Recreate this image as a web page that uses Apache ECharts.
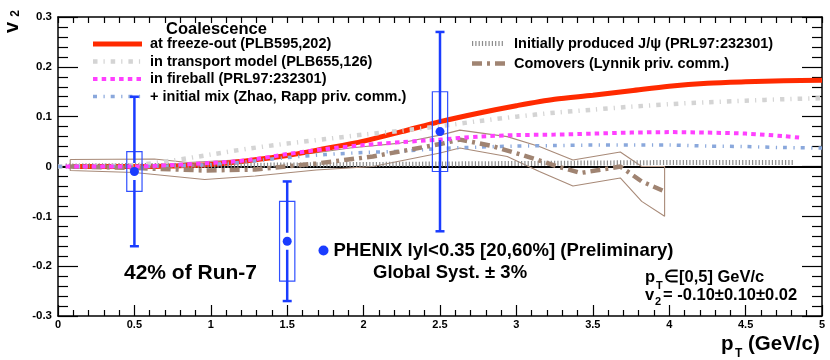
<!DOCTYPE html>
<html>
<head>
<meta charset="utf-8">
<script src="https://cdn.jsdelivr.net/npm/echarts@6/dist/echarts.min.js"></script>
<style>
html,body{margin:0;padding:0;background:#fff;}
#chart{width:830px;height:360px;}
</style>
</head>
<body>
<div id="chart"></div>
<script>
// ---- tick labels ----
const xTickLabels = ['0','0.5','1','1.5','2','2.5','3','3.5','4','4.5','5'];
const yTickLabels = ['-0.3','-0.2','-0.1','0','0.1','0.2','0.3'];

// ---- PHENIX data ----
const phenixPt = [0.5, 1.5, 2.5];
const phenixV2 = [-0.01, -0.15, 0.07];
const phenixStat = [0.15, 0.12, 0.20];
const phenixSyst = [0.04, 0.08, 0.08];

// ---- model curves ----
const freezeOutPt = [0.1, 0.5, 0.75, 1, 1.25, 1.5, 1.75, 2, 2.25, 2.5, 2.75, 3, 3.25, 3.5, 3.75, 4, 4.25, 4.5, 4.75, 5];
const freezeOutV2 = [0, 0, 0.001, 0.004, 0.012, 0.022, 0.036, 0.051, 0.07, 0.09, 0.107, 0.122, 0.135, 0.143, 0.152, 0.161, 0.167, 0.170, 0.172, 0.173];

const transportPt = [0, 0.25, 0.5, 0.75, 1, 1.25, 1.5, 1.75, 2, 2.25, 2.5, 2.75, 3, 3.25, 3.5, 3.75, 4, 4.25, 4.5, 4.75, 5];
const transportV2 = [0, 0.001, 0.003, 0.012, 0.024, 0.036, 0.046, 0.055, 0.064, 0.072, 0.081, 0.091, 0.1, 0.108, 0.114, 0.12, 0.125, 0.129, 0.132, 0.135, 0.137];

const fireballPt = [0.05, 0.25, 0.5, 0.75, 1, 1.25, 1.5, 1.75, 2, 2.25, 2.5, 2.75, 3, 3.25, 3.5, 3.75, 4, 4.25, 4.5, 4.75, 4.85];
const fireballV2 = [0, 0, 0, 0.003, 0.007, 0.013, 0.025, 0.035, 0.043, 0.049, 0.054, 0.06, 0.063, 0.064, 0.066, 0.068, 0.069, 0.068, 0.066, 0.061, 0.058];

const initMixPt = [0, 0.25, 0.5, 0.75, 1, 1.25, 1.5, 1.75, 2, 2.25, 2.5, 2.75, 3, 3.25, 3.5, 3.75, 4, 4.25, 4.5, 4.75, 5];
const initMixV2 = [0, 0, 0, 0.001, 0.004, 0.01, 0.018, 0.024, 0.028, 0.031, 0.036, 0.039, 0.041, 0.042, 0.043, 0.043, 0.043, 0.041, 0.04, 0.038, 0.037];

const initialPt = [0.05, 0.5, 1, 1.5, 2, 2.5, 3, 3.5, 4, 4.5, 4.82];
const initialV2 = [0.001, 0.002, 0.002, 0.003, 0.004, 0.005, 0.006, 0.007, 0.008, 0.008, 0.008];

const comoverPt = [0.07, 0.5, 0.96, 1.29, 1.69, 2.06, 2.5, 2.63, 2.83, 3.04, 3.27, 3.42, 3.68, 3.82, 3.97];
const comoverV2 = [0, -0.003, -0.008, -0.006, 0.006, 0.02, 0.045, 0.054, 0.042, 0.023, 0, -0.013, 0, -0.03, -0.05];

const bandUpperPt = [0.08, 0.63, 0.85, 1.29, 1.68, 1.91, 2.24, 2.5, 2.63, 2.94, 3.15, 3.37, 3.68, 3.82, 3.97];
const bandUpperV2 = [0.014, 0.015, 0.008, 0.015, 0.027, 0.037, 0.047, 0.063, 0.073, 0.06, 0.04, 0.013, 0.029, 0, 0];
const bandLowerPt = [0.08, 0.5, 0.96, 1.29, 1.69, 2.06, 2.5, 2.63, 2.94, 3.15, 3.37, 3.68, 3.82, 3.97];
const bandLowerV2 = [-0.008, -0.012, -0.026, -0.019, -0.007, 0, 0.027, 0.037, 0.02, -0.01, -0.039, -0.023, -0.07, -0.1];

// ---- names ----
const nFreeze = 'at freeze-out (PLB595,202)';
const nTransport = 'in transport model (PLB655,126)';
const nFireball = 'in fireball (PRL97:232301)';
const nMix = '+ initial mix (Zhao, Rapp priv. comm.)';
const nInitial = 'Initially produced J/\u03c8 (PRL97:232301)';
const nComover = 'Comovers (Lynnik priv. comm.)';
const nPhenix = 'PHENIX lyl<0.35 [20,60%] (Preliminary)';

const zip = (a, b) => a.map((v, i) => [v, b[i]]);
const bandOutline = zip(bandUpperPt, bandUpperV2)
  .concat(zip(bandLowerPt, bandLowerV2).reverse())
  .concat([[bandUpperPt[0], bandUpperV2[0]]]);

const FONT = '"Liberation Sans", Arial, Helvetica, sans-serif';
const BLUE = '#1a3cff';

// line styles (shared by curves and legend samples)
const STY = {
  freeze:    {color: '#ff2a00', width: 5,   dash: null},
  transport: {color: '#d4d4d4', width: 4.5, dash: [4.5, 6, 1.2, 6]},
  fireball:  {color: '#ff40ff', width: 4,   dash: [4.5, 4.2]},
  mix:       {color: '#8aa8dc', width: 3.5, dash: [4, 6.5, 1.2, 6]},
  initial:   {color: '#8c8c8c', width: 5,   dash: [1.2, 2.1]},
  comover:   {color: '#a08472', width: 4.5, dash: [10, 5, 3, 5]}
};

const chart = echarts.init(document.getElementById('chart'), null, {renderer: 'canvas'});

function lineSeries(name, xs, ys, s, z, smooth) {
  return {
    name: name, type: 'line', data: zip(xs, ys), symbol: 'none', showSymbol: false,
    smooth: smooth, z: z, silent: true,
    lineStyle: {color: s.color, width: s.width, type: s.dash || 'solid', cap: 'butt'},
    itemStyle: {color: s.color}
  };
}

function sample(x1, x2, y, s) {
  const st = {stroke: s.color, lineWidth: s.width, lineCap: 'butt'};
  if (s.dash) st.lineDash = s.dash;
  return {type: 'line', silent: true, shape: {x1: x1, y1: y, x2: x2, y2: y}, style: st};
}
function txt(x, y, text, size, align) {
  return {type: 'text', x: x, y: y, silent: true,
    style: {text: text, font: 'bold ' + size + 'px ' + FONT, fill: '#000',
      textAlign: align || 'left', textVerticalAlign: 'middle', verticalAlign: 'middle'}};
}

const errData = phenixPt.map((x, i) => [x, phenixV2[i], phenixV2[i] - phenixStat[i], phenixV2[i] + phenixStat[i]]);
const systData = phenixPt.map((x, i) => [x, phenixV2[i], phenixV2[i] - phenixSyst[i], phenixV2[i] + phenixSyst[i]]);

const axisLineStyle = {color: '#000', width: 1.5};
const tickStyle = {color: '#000', width: 1.2};

const option = {
  animation: false,
  backgroundColor: '#fff',
  grid: {left: 58, right: 8, top: 17, bottom: 44, containLabel: false},
  xAxis: [
    {
      type: 'value', min: 0, max: 5, interval: 0.5, position: 'bottom',
      axisLine: {show: true, onZero: false, lineStyle: axisLineStyle},
      axisTick: {show: true, inside: true, length: 11, lineStyle: tickStyle},
      minorTick: {show: true, splitNumber: 5, length: 6, lineStyle: tickStyle},
      splitLine: {show: false},
      axisLabel: {
        margin: 3, fontSize: 11, fontWeight: 'bold', color: '#000', fontFamily: FONT,
        formatter: v => xTickLabels[Math.round(v / 0.5)]
      }
    },
    {
      type: 'value', min: 0, max: 5, interval: 0.1, position: 'top',
      axisLine: {show: true, onZero: false, lineStyle: axisLineStyle},
      axisTick: {show: true, inside: true, length: 6, lineStyle: tickStyle},
      splitLine: {show: false}, axisLabel: {show: false}
    }
  ],
  yAxis: [
    {
      type: 'value', min: -0.3, max: 0.3, interval: 0.1, position: 'left',
      axisLine: {show: true, onZero: false, lineStyle: axisLineStyle},
      axisTick: {show: true, inside: true, length: 20, lineStyle: tickStyle},
      minorTick: {show: true, splitNumber: 5, length: 10, lineStyle: tickStyle},
      splitLine: {show: false},
      axisLabel: {
        margin: 6, fontSize: 11.5, fontWeight: 'bold', color: '#000', fontFamily: FONT,
        formatter: v => yTickLabels[Math.round((v + 0.3) / 0.1)]
      }
    },
    {
      type: 'value', min: -0.3, max: 0.3, interval: 0.1, position: 'right',
      axisLine: {show: true, onZero: false, lineStyle: axisLineStyle},
      axisTick: {show: true, inside: true, length: 20, lineStyle: tickStyle},
      minorTick: {show: true, splitNumber: 5, length: 10, lineStyle: tickStyle},
      splitLine: {show: false}, axisLabel: {show: false}
    }
  ],
  legend: [
    {
      left: 318.5, top: 241, orient: 'vertical', padding: 0, itemWidth: 10, itemHeight: 10,
      selectedMode: false, icon: 'circle',
      textStyle: {fontFamily: FONT, fontWeight: 'bold', fontSize: 18.5, color: '#000'},
      data: [nPhenix]
    }
  ],
  series: [
    {
      name: 'band', type: 'line', data: bandOutline, symbol: 'none', z: 2, silent: true,
      lineStyle: {color: '#a88a78', width: 1.1}
    },
    Object.assign(lineSeries(nFreeze, freezeOutPt, freezeOutV2, STY.freeze, 3, 0.3), {
      markLine: {
        silent: true, symbol: 'none', label: {show: false}, z: 1,
        lineStyle: {color: '#000', width: 2, type: 'solid'},
        data: [{yAxis: 0}]
      }
    }),
    lineSeries(nInitial, initialPt, initialV2, STY.initial, 4, false),
    lineSeries(nTransport, transportPt, transportV2, STY.transport, 5, 0.3),
    lineSeries(nMix, initMixPt, initMixV2, STY.mix, 6, 0.3),
    lineSeries(nComover, comoverPt, comoverV2, STY.comover, 7, false),
    lineSeries(nFireball, fireballPt, fireballV2, STY.fireball, 8, 0.3),
    {
      name: 'syst', type: 'custom', z: 10, silent: true, data: systData,
      renderItem: function (params, api) {
        const x = api.value(0), lo = api.value(2), hi = api.value(3);
        const p1 = api.coord([x - 0.05, hi]);
        const p2 = api.coord([x + 0.05, lo]);
        return {
          type: 'rect',
          shape: {x: p1[0], y: p1[1], width: p2[0] - p1[0], height: p2[1] - p1[1]},
          style: {fill: 'none', stroke: '#3050ff', lineWidth: 1.2}
        };
      }
    },
    {
      name: 'stat', type: 'custom', z: 11, silent: true, data: errData,
      renderItem: function (params, api) {
        const x = api.value(0), y = api.value(1), lo = api.value(2), hi = api.value(3);
        const p = api.coord([x, y]);
        const t = api.coord([x, hi]);
        const b = api.coord([x, lo]);
        const gap = 8.5, cap = 4.5;
        const st = {stroke: BLUE, lineWidth: 2.5};
        return {
          type: 'group',
          children: [
            {type: 'line', shape: {x1: t[0], y1: t[1], x2: p[0], y2: p[1] - gap}, style: st},
            {type: 'line', shape: {x1: p[0], y1: p[1] + gap, x2: b[0], y2: b[1]}, style: st},
            {type: 'line', shape: {x1: t[0] - cap, y1: t[1], x2: t[0] + cap, y2: t[1]}, style: st},
            {type: 'line', shape: {x1: b[0] - cap, y1: b[1], x2: b[0] + cap, y2: b[1]}, style: st}
          ]
        };
      }
    },
    {
      name: nPhenix, type: 'scatter', z: 12, silent: true, data: zip(phenixPt, phenixV2),
      symbol: 'circle', symbolSize: 9, itemStyle: {color: BLUE, opacity: 1}
    }
  ],
  graphic: [
    // legend: coalescence block
    txt(166, 29.5, 'Coalescence', 16.5),
    sample(93, 142, 44, STY.freeze),      txt(150, 44, nFreeze, 14.5),
    sample(93, 142, 61.5, STY.transport), txt(150, 61.5, nTransport, 14.5),
    sample(93, 142, 79, STY.fireball),    txt(150, 79, nFireball, 14.5),
    sample(93, 142, 96.5, STY.mix),       txt(150, 96.5, nMix, 14.5),
    // legend: right block
    sample(472, 505, 43.5, STY.initial),  txt(514, 43.5, nInitial, 14.5),
    sample(472, 505, 63.5, STY.comover),  txt(514, 63.5, nComover, 14.5),
    // annotations
    txt(124, 273.5, '42% of Run-7', 21),
    txt(373, 273, 'Global Syst. \u00b1 3%', 18.5),
    txt(645, 277, 'p', 16.5),
    txt(656, 286, 'T', 11),
    txt(664, 277, '\u2208[0,5] GeV/c', 16.5),
    txt(645, 295, 'v', 16.5),
    txt(655, 302, '2', 11),
    txt(663, 295, '= -0.10\u00b10.10\u00b10.02', 16.5),
    // x-axis title
    txt(721, 344, 'p', 20.5),
    txt(735, 354, 'T', 12),
    txt(748, 344, '(GeV/c)', 20.5),
    // y-axis title (rotated)
    Object.assign(txt(12.5, 27.5, 'v', 20, 'center'), {rotation: Math.PI / 2}),
    Object.assign(txt(16, 13.5, '2', 12, 'center'), {rotation: Math.PI / 2})
  ]
};
chart.setOption(option);
</script>
</body>
</html>
